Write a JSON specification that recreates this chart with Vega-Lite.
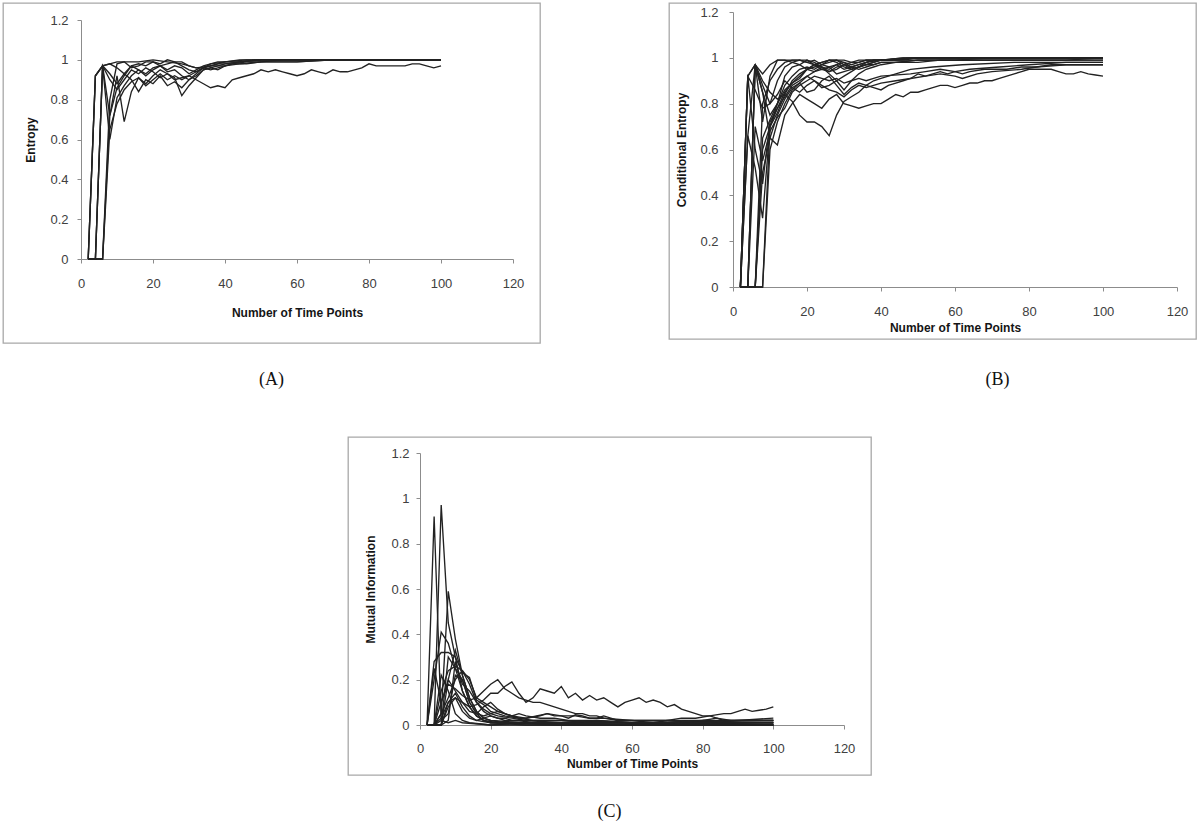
{
"$schema":"https://vega.github.io/schema/vega-lite/v6.json",
"padding":{"left":2,"top":2,"right":4,"bottom":4},
"background":"white",
"config":{
 "view":{"stroke":"#a8a8a8","strokeWidth":1.3},
 "axis":{"grid":false,"labelFlush":false,"labelOverlap":false,"domainColor":"#8c8c8c","tickColor":"#8c8c8c","tickSize":4,"labelColor":"#404040","labelFont":"Liberation Sans","labelFontSize":13,"titleFont":"Liberation Sans","titleFontSize":12,"titleFontWeight":"bold","titleColor":"#151515"},
 "title":{"font":"Liberation Serif","fontSize":18,"fontWeight":"normal","color":"#111","orient":"bottom","anchor":"middle","baseline":"top"}
},
"datasets":{
"A":[
{"s":1,"x":2,"y":0},{"s":1,"x":4,"y":0.92},{"s":1,"x":6,"y":0.97},{"s":1,"x":8,"y":0.98},{"s":1,"x":10,"y":0.99},{"s":1,"x":12,"y":0.99},{"s":1,"x":16,"y":0.99},{"s":1,"x":20,"y":1},{"s":1,"x":24,"y":0.99},{"s":1,"x":28,"y":0.98},{"s":1,"x":32,"y":0.96},{"s":1,"x":36,"y":0.97},{"s":1,"x":40,"y":0.99},{"s":1,"x":46,"y":1},{"s":1,"x":100,"y":1},
{"s":2,"x":2,"y":0},{"s":2,"x":4,"y":0.92},{"s":2,"x":6,"y":0.97},{"s":2,"x":8,"y":0.72},{"s":2,"x":10,"y":0.86},{"s":2,"x":12,"y":0.92},{"s":2,"x":14,"y":0.97},{"s":2,"x":16,"y":0.98},{"s":2,"x":18,"y":0.97},{"s":2,"x":20,"y":0.99},{"s":2,"x":22,"y":0.98},{"s":2,"x":24,"y":1},{"s":2,"x":26,"y":0.99},{"s":2,"x":28,"y":0.97},{"s":2,"x":30,"y":0.95},{"s":2,"x":32,"y":0.94},{"s":2,"x":34,"y":0.96},{"s":2,"x":36,"y":0.98},{"s":2,"x":38,"y":0.99},{"s":2,"x":40,"y":0.99},{"s":2,"x":44,"y":1},{"s":2,"x":100,"y":1},
{"s":3,"x":2,"y":0},{"s":3,"x":4,"y":0},{"s":3,"x":6,"y":0.97},{"s":3,"x":8,"y":0.6},{"s":3,"x":10,"y":0.81},{"s":3,"x":12,"y":0.87},{"s":3,"x":14,"y":0.92},{"s":3,"x":16,"y":0.95},{"s":3,"x":18,"y":0.93},{"s":3,"x":20,"y":0.96},{"s":3,"x":22,"y":0.97},{"s":3,"x":24,"y":0.95},{"s":3,"x":26,"y":0.97},{"s":3,"x":28,"y":0.96},{"s":3,"x":30,"y":0.93},{"s":3,"x":32,"y":0.95},{"s":3,"x":34,"y":0.97},{"s":3,"x":36,"y":0.98},{"s":3,"x":40,"y":0.99},{"s":3,"x":44,"y":0.99},{"s":3,"x":50,"y":1},{"s":3,"x":100,"y":1},
{"s":4,"x":2,"y":0},{"s":4,"x":4,"y":0},{"s":4,"x":6,"y":0},{"s":4,"x":8,"y":0.8},{"s":4,"x":10,"y":0.98},{"s":4,"x":12,"y":0.99},{"s":4,"x":14,"y":0.96},{"s":4,"x":16,"y":0.97},{"s":4,"x":18,"y":0.99},{"s":4,"x":20,"y":0.99},{"s":4,"x":22,"y":0.97},{"s":4,"x":24,"y":0.98},{"s":4,"x":26,"y":0.99},{"s":4,"x":28,"y":0.99},{"s":4,"x":30,"y":0.97},{"s":4,"x":32,"y":0.96},{"s":4,"x":34,"y":0.96},{"s":4,"x":36,"y":0.97},{"s":4,"x":38,"y":0.97},{"s":4,"x":40,"y":0.98},{"s":4,"x":44,"y":0.99},{"s":4,"x":50,"y":1},{"s":4,"x":100,"y":1},
{"s":5,"x":2,"y":0},{"s":5,"x":4,"y":0},{"s":5,"x":6,"y":0},{"s":5,"x":8,"y":0.72},{"s":5,"x":10,"y":0.92},{"s":5,"x":12,"y":0.69},{"s":5,"x":14,"y":0.84},{"s":5,"x":16,"y":0.91},{"s":5,"x":18,"y":0.87},{"s":5,"x":20,"y":0.9},{"s":5,"x":22,"y":0.93},{"s":5,"x":24,"y":0.9},{"s":5,"x":26,"y":0.92},{"s":5,"x":28,"y":0.9},{"s":5,"x":30,"y":0.92},{"s":5,"x":32,"y":0.94},{"s":5,"x":34,"y":0.96},{"s":5,"x":36,"y":0.95},{"s":5,"x":38,"y":0.96},{"s":5,"x":40,"y":0.97},{"s":5,"x":42,"y":0.98},{"s":5,"x":46,"y":0.98},{"s":5,"x":50,"y":0.99},{"s":5,"x":56,"y":1},{"s":5,"x":100,"y":1},
{"s":6,"x":2,"y":0},{"s":6,"x":4,"y":0},{"s":6,"x":6,"y":0},{"s":6,"x":8,"y":0.65},{"s":6,"x":10,"y":0.78},{"s":6,"x":12,"y":0.85},{"s":6,"x":14,"y":0.89},{"s":6,"x":16,"y":0.91},{"s":6,"x":18,"y":0.88},{"s":6,"x":20,"y":0.92},{"s":6,"x":22,"y":0.95},{"s":6,"x":24,"y":0.93},{"s":6,"x":26,"y":0.91},{"s":6,"x":28,"y":0.82},{"s":6,"x":30,"y":0.87},{"s":6,"x":32,"y":0.91},{"s":6,"x":34,"y":0.95},{"s":6,"x":36,"y":0.96},{"s":6,"x":38,"y":0.95},{"s":6,"x":40,"y":0.97},{"s":6,"x":42,"y":0.98},{"s":6,"x":46,"y":0.99},{"s":6,"x":60,"y":0.99},{"s":6,"x":70,"y":1},{"s":6,"x":100,"y":1},
{"s":7,"x":2,"y":0},{"s":7,"x":4,"y":0},{"s":7,"x":6,"y":0.97},{"s":7,"x":8,"y":0.9},{"s":7,"x":10,"y":0.85},{"s":7,"x":12,"y":0.9},{"s":7,"x":14,"y":0.95},{"s":7,"x":16,"y":0.93},{"s":7,"x":18,"y":0.96},{"s":7,"x":20,"y":0.94},{"s":7,"x":22,"y":0.91},{"s":7,"x":24,"y":0.93},{"s":7,"x":26,"y":0.9},{"s":7,"x":28,"y":0.91},{"s":7,"x":30,"y":0.92},{"s":7,"x":32,"y":0.9},{"s":7,"x":34,"y":0.88},{"s":7,"x":36,"y":0.86},{"s":7,"x":38,"y":0.87},{"s":7,"x":40,"y":0.86},{"s":7,"x":42,"y":0.9},{"s":7,"x":44,"y":0.91},{"s":7,"x":46,"y":0.92},{"s":7,"x":48,"y":0.93},{"s":7,"x":50,"y":0.95},{"s":7,"x":52,"y":0.94},{"s":7,"x":54,"y":0.95},{"s":7,"x":56,"y":0.94},{"s":7,"x":58,"y":0.93},{"s":7,"x":60,"y":0.92},{"s":7,"x":62,"y":0.93},{"s":7,"x":64,"y":0.95},{"s":7,"x":66,"y":0.94},{"s":7,"x":68,"y":0.93},{"s":7,"x":70,"y":0.95},{"s":7,"x":72,"y":0.94},{"s":7,"x":74,"y":0.94},{"s":7,"x":76,"y":0.95},{"s":7,"x":78,"y":0.96},{"s":7,"x":80,"y":0.98},{"s":7,"x":82,"y":0.97},{"s":7,"x":86,"y":0.97},{"s":7,"x":90,"y":0.97},{"s":7,"x":92,"y":0.98},{"s":7,"x":94,"y":0.98},{"s":7,"x":96,"y":0.97},{"s":7,"x":98,"y":0.96},{"s":7,"x":100,"y":0.97},
{"s":8,"x":2,"y":0},{"s":8,"x":4,"y":0},{"s":8,"x":6,"y":0.97},{"s":8,"x":8,"y":0.93},{"s":8,"x":10,"y":0.88},{"s":8,"x":12,"y":0.93},{"s":8,"x":14,"y":0.9},{"s":8,"x":16,"y":0.84},{"s":8,"x":18,"y":0.9},{"s":8,"x":20,"y":0.88},{"s":8,"x":22,"y":0.92},{"s":8,"x":24,"y":0.87},{"s":8,"x":26,"y":0.89},{"s":8,"x":28,"y":0.86},{"s":8,"x":30,"y":0.9},{"s":8,"x":32,"y":0.92},{"s":8,"x":34,"y":0.95},{"s":8,"x":36,"y":0.96},{"s":8,"x":38,"y":0.97},{"s":8,"x":40,"y":0.97},{"s":8,"x":44,"y":0.98},{"s":8,"x":50,"y":0.99},{"s":8,"x":60,"y":0.99},{"s":8,"x":70,"y":1},{"s":8,"x":100,"y":1},
{"s":9,"x":2,"y":0},{"s":9,"x":4,"y":0.92},{"s":9,"x":6,"y":0.97},{"s":9,"x":8,"y":0.98},{"s":9,"x":10,"y":0.96},{"s":9,"x":12,"y":0.93},{"s":9,"x":14,"y":0.97},{"s":9,"x":16,"y":0.95},{"s":9,"x":18,"y":0.92},{"s":9,"x":20,"y":0.95},{"s":9,"x":22,"y":0.97},{"s":9,"x":24,"y":0.94},{"s":9,"x":26,"y":0.95},{"s":9,"x":28,"y":0.92},{"s":9,"x":30,"y":0.9},{"s":9,"x":32,"y":0.93},{"s":9,"x":34,"y":0.96},{"s":9,"x":36,"y":0.97},{"s":9,"x":38,"y":0.98},{"s":9,"x":40,"y":0.98},{"s":9,"x":44,"y":0.99},{"s":9,"x":50,"y":1},{"s":9,"x":100,"y":1}
],
"B":[
{"s":1,"x":2,"y":0},{"s":1,"x":4,"y":0.92},{"s":1,"x":6,"y":0.97},{"s":1,"x":8,"y":0.93},{"s":1,"x":10,"y":0.97},{"s":1,"x":12,"y":0.99},{"s":1,"x":14,"y":0.99},{"s":1,"x":16,"y":0.99},{"s":1,"x":18,"y":0.99},{"s":1,"x":20,"y":0.98},{"s":1,"x":22,"y":0.97},{"s":1,"x":24,"y":0.98},{"s":1,"x":26,"y":0.99},{"s":1,"x":28,"y":0.98},{"s":1,"x":30,"y":0.96},{"s":1,"x":32,"y":0.95},{"s":1,"x":34,"y":0.96},{"s":1,"x":36,"y":0.97},{"s":1,"x":38,"y":0.98},{"s":1,"x":40,"y":0.99},{"s":1,"x":44,"y":0.99},{"s":1,"x":50,"y":1},{"s":1,"x":100,"y":1},
{"s":2,"x":2,"y":0},{"s":2,"x":4,"y":0.66},{"s":2,"x":6,"y":0.52},{"s":2,"x":8,"y":0.3},{"s":2,"x":10,"y":0.7},{"s":2,"x":12,"y":0.8},{"s":2,"x":14,"y":0.88},{"s":2,"x":16,"y":0.92},{"s":2,"x":18,"y":0.95},{"s":2,"x":20,"y":0.96},{"s":2,"x":22,"y":0.95},{"s":2,"x":24,"y":0.97},{"s":2,"x":26,"y":0.99},{"s":2,"x":28,"y":0.99},{"s":2,"x":30,"y":0.97},{"s":2,"x":32,"y":0.95},{"s":2,"x":34,"y":0.96},{"s":2,"x":36,"y":0.97},{"s":2,"x":38,"y":0.98},{"s":2,"x":40,"y":0.99},{"s":2,"x":46,"y":0.99},{"s":2,"x":50,"y":1},{"s":2,"x":100,"y":1},
{"s":3,"x":2,"y":0},{"s":3,"x":4,"y":0.92},{"s":3,"x":6,"y":0.6},{"s":3,"x":8,"y":0.45},{"s":3,"x":10,"y":0.72},{"s":3,"x":12,"y":0.78},{"s":3,"x":14,"y":0.85},{"s":3,"x":16,"y":0.89},{"s":3,"x":18,"y":0.91},{"s":3,"x":20,"y":0.95},{"s":3,"x":22,"y":0.97},{"s":3,"x":24,"y":0.96},{"s":3,"x":26,"y":0.95},{"s":3,"x":28,"y":0.97},{"s":3,"x":30,"y":0.98},{"s":3,"x":32,"y":0.96},{"s":3,"x":34,"y":0.97},{"s":3,"x":36,"y":0.98},{"s":3,"x":38,"y":0.99},{"s":3,"x":40,"y":0.99},{"s":3,"x":50,"y":1},{"s":3,"x":100,"y":1},
{"s":4,"x":2,"y":0},{"s":4,"x":4,"y":0},{"s":4,"x":6,"y":0.97},{"s":4,"x":8,"y":0.72},{"s":4,"x":10,"y":0.92},{"s":4,"x":12,"y":0.99},{"s":4,"x":14,"y":0.99},{"s":4,"x":16,"y":0.98},{"s":4,"x":18,"y":0.97},{"s":4,"x":20,"y":0.99},{"s":4,"x":22,"y":0.97},{"s":4,"x":24,"y":0.95},{"s":4,"x":26,"y":0.96},{"s":4,"x":28,"y":0.93},{"s":4,"x":30,"y":0.94},{"s":4,"x":32,"y":0.95},{"s":4,"x":34,"y":0.96},{"s":4,"x":36,"y":0.98},{"s":4,"x":38,"y":0.99},{"s":4,"x":40,"y":0.99},{"s":4,"x":46,"y":1},{"s":4,"x":100,"y":1},
{"s":5,"x":2,"y":0},{"s":5,"x":4,"y":0},{"s":5,"x":6,"y":0.97},{"s":5,"x":8,"y":0.85},{"s":5,"x":10,"y":0.75},{"s":5,"x":12,"y":0.8},{"s":5,"x":14,"y":0.92},{"s":5,"x":16,"y":0.96},{"s":5,"x":18,"y":0.97},{"s":5,"x":20,"y":0.95},{"s":5,"x":22,"y":0.94},{"s":5,"x":24,"y":0.96},{"s":5,"x":26,"y":0.93},{"s":5,"x":28,"y":0.9},{"s":5,"x":30,"y":0.92},{"s":5,"x":32,"y":0.94},{"s":5,"x":34,"y":0.96},{"s":5,"x":36,"y":0.97},{"s":5,"x":38,"y":0.97},{"s":5,"x":40,"y":0.98},{"s":5,"x":44,"y":0.98},{"s":5,"x":50,"y":0.99},{"s":5,"x":60,"y":0.99},{"s":5,"x":70,"y":1},{"s":5,"x":100,"y":1},
{"s":6,"x":2,"y":0},{"s":6,"x":4,"y":0},{"s":6,"x":6,"y":0},{"s":6,"x":8,"y":0.6},{"s":6,"x":10,"y":0.7},{"s":6,"x":12,"y":0.78},{"s":6,"x":14,"y":0.83},{"s":6,"x":16,"y":0.88},{"s":6,"x":18,"y":0.9},{"s":6,"x":20,"y":0.92},{"s":6,"x":22,"y":0.9},{"s":6,"x":24,"y":0.87},{"s":6,"x":26,"y":0.88},{"s":6,"x":28,"y":0.9},{"s":6,"x":30,"y":0.86},{"s":6,"x":32,"y":0.9},{"s":6,"x":34,"y":0.93},{"s":6,"x":36,"y":0.95},{"s":6,"x":38,"y":0.96},{"s":6,"x":40,"y":0.97},{"s":6,"x":44,"y":0.98},{"s":6,"x":50,"y":0.98},{"s":6,"x":56,"y":0.99},{"s":6,"x":80,"y":0.99},{"s":6,"x":90,"y":0.99},{"s":6,"x":100,"y":1},
{"s":7,"x":2,"y":0},{"s":7,"x":4,"y":0},{"s":7,"x":6,"y":0},{"s":7,"x":8,"y":0.5},{"s":7,"x":10,"y":0.65},{"s":7,"x":12,"y":0.75},{"s":7,"x":14,"y":0.82},{"s":7,"x":16,"y":0.87},{"s":7,"x":18,"y":0.89},{"s":7,"x":20,"y":0.85},{"s":7,"x":22,"y":0.86},{"s":7,"x":24,"y":0.9},{"s":7,"x":26,"y":0.92},{"s":7,"x":28,"y":0.88},{"s":7,"x":30,"y":0.84},{"s":7,"x":32,"y":0.87},{"s":7,"x":34,"y":0.89},{"s":7,"x":36,"y":0.88},{"s":7,"x":38,"y":0.87},{"s":7,"x":40,"y":0.86},{"s":7,"x":42,"y":0.88},{"s":7,"x":44,"y":0.89},{"s":7,"x":46,"y":0.9},{"s":7,"x":48,"y":0.91},{"s":7,"x":50,"y":0.93},{"s":7,"x":52,"y":0.92},{"s":7,"x":54,"y":0.93},{"s":7,"x":56,"y":0.94},{"s":7,"x":58,"y":0.93},{"s":7,"x":60,"y":0.94},{"s":7,"x":62,"y":0.93},{"s":7,"x":64,"y":0.94},{"s":7,"x":68,"y":0.95},{"s":7,"x":74,"y":0.95},{"s":7,"x":78,"y":0.96},{"s":7,"x":82,"y":0.96},{"s":7,"x":86,"y":0.97},{"s":7,"x":94,"y":0.97},{"s":7,"x":100,"y":0.97},
{"s":8,"x":2,"y":0},{"s":8,"x":4,"y":0},{"s":8,"x":6,"y":0},{"s":8,"x":8,"y":0},{"s":8,"x":10,"y":0.7},{"s":8,"x":12,"y":0.76},{"s":8,"x":14,"y":0.84},{"s":8,"x":16,"y":0.9},{"s":8,"x":18,"y":0.93},{"s":8,"x":20,"y":0.95},{"s":8,"x":22,"y":0.97},{"s":8,"x":24,"y":0.98},{"s":8,"x":26,"y":0.99},{"s":8,"x":28,"y":0.99},{"s":8,"x":30,"y":0.98},{"s":8,"x":32,"y":0.97},{"s":8,"x":34,"y":0.98},{"s":8,"x":36,"y":0.99},{"s":8,"x":40,"y":0.99},{"s":8,"x":50,"y":1},{"s":8,"x":100,"y":1},
{"s":9,"x":2,"y":0},{"s":9,"x":4,"y":0},{"s":9,"x":6,"y":0},{"s":9,"x":8,"y":0},{"s":9,"x":10,"y":0.6},{"s":9,"x":12,"y":0.72},{"s":9,"x":14,"y":0.8},{"s":9,"x":16,"y":0.86},{"s":9,"x":18,"y":0.89},{"s":9,"x":20,"y":0.92},{"s":9,"x":22,"y":0.94},{"s":9,"x":24,"y":0.95},{"s":9,"x":26,"y":0.94},{"s":9,"x":28,"y":0.95},{"s":9,"x":30,"y":0.97},{"s":9,"x":32,"y":0.98},{"s":9,"x":34,"y":0.98},{"s":9,"x":36,"y":0.99},{"s":9,"x":60,"y":0.99},{"s":9,"x":100,"y":0.99},
{"s":10,"x":2,"y":0},{"s":10,"x":4,"y":0},{"s":10,"x":6,"y":0.97},{"s":10,"x":8,"y":0.9},{"s":10,"x":10,"y":0.85},{"s":10,"x":12,"y":0.82},{"s":10,"x":14,"y":0.84},{"s":10,"x":16,"y":0.81},{"s":10,"x":18,"y":0.75},{"s":10,"x":20,"y":0.72},{"s":10,"x":22,"y":0.72},{"s":10,"x":24,"y":0.7},{"s":10,"x":26,"y":0.66},{"s":10,"x":28,"y":0.75},{"s":10,"x":30,"y":0.81},{"s":10,"x":32,"y":0.83},{"s":10,"x":34,"y":0.85},{"s":10,"x":36,"y":0.88},{"s":10,"x":38,"y":0.9},{"s":10,"x":40,"y":0.91},{"s":10,"x":42,"y":0.92},{"s":10,"x":44,"y":0.93},{"s":10,"x":46,"y":0.94},{"s":10,"x":48,"y":0.95},{"s":10,"x":54,"y":0.96},{"s":10,"x":62,"y":0.97},{"s":10,"x":76,"y":0.98},{"s":10,"x":100,"y":0.98},
{"s":11,"x":2,"y":0},{"s":11,"x":4,"y":0.92},{"s":11,"x":6,"y":0.97},{"s":11,"x":8,"y":0.85},{"s":11,"x":10,"y":0.65},{"s":11,"x":12,"y":0.62},{"s":11,"x":14,"y":0.75},{"s":11,"x":16,"y":0.8},{"s":11,"x":18,"y":0.84},{"s":11,"x":20,"y":0.82},{"s":11,"x":22,"y":0.8},{"s":11,"x":24,"y":0.78},{"s":11,"x":26,"y":0.82},{"s":11,"x":28,"y":0.84},{"s":11,"x":30,"y":0.8},{"s":11,"x":32,"y":0.79},{"s":11,"x":34,"y":0.78},{"s":11,"x":36,"y":0.79},{"s":11,"x":38,"y":0.8},{"s":11,"x":40,"y":0.8},{"s":11,"x":42,"y":0.82},{"s":11,"x":44,"y":0.84},{"s":11,"x":46,"y":0.83},{"s":11,"x":48,"y":0.85},{"s":11,"x":50,"y":0.85},{"s":11,"x":52,"y":0.86},{"s":11,"x":54,"y":0.87},{"s":11,"x":56,"y":0.88},{"s":11,"x":58,"y":0.88},{"s":11,"x":60,"y":0.87},{"s":11,"x":62,"y":0.88},{"s":11,"x":64,"y":0.89},{"s":11,"x":66,"y":0.89},{"s":11,"x":68,"y":0.9},{"s":11,"x":70,"y":0.9},{"s":11,"x":72,"y":0.91},{"s":11,"x":74,"y":0.92},{"s":11,"x":76,"y":0.93},{"s":11,"x":78,"y":0.94},{"s":11,"x":80,"y":0.95},{"s":11,"x":84,"y":0.95},{"s":11,"x":86,"y":0.95},{"s":11,"x":88,"y":0.94},{"s":11,"x":90,"y":0.93},{"s":11,"x":92,"y":0.93},{"s":11,"x":94,"y":0.94},{"s":11,"x":96,"y":0.93},{"s":11,"x":98,"y":0.925},{"s":11,"x":100,"y":0.92},
{"s":12,"x":2,"y":0},{"s":12,"x":4,"y":0},{"s":12,"x":6,"y":0},{"s":12,"x":8,"y":0.8},{"s":12,"x":10,"y":0.9},{"s":12,"x":12,"y":0.95},{"s":12,"x":14,"y":0.98},{"s":12,"x":16,"y":0.99},{"s":12,"x":18,"y":0.99},{"s":12,"x":20,"y":0.98},{"s":12,"x":22,"y":0.99},{"s":12,"x":24,"y":0.97},{"s":12,"x":26,"y":0.96},{"s":12,"x":28,"y":0.97},{"s":12,"x":30,"y":0.95},{"s":12,"x":32,"y":0.96},{"s":12,"x":34,"y":0.97},{"s":12,"x":36,"y":0.98},{"s":12,"x":40,"y":0.99},{"s":12,"x":46,"y":1},{"s":12,"x":100,"y":1},
{"s":13,"x":2,"y":0},{"s":13,"x":4,"y":0.66},{"s":13,"x":6,"y":0.97},{"s":13,"x":8,"y":0.88},{"s":13,"x":10,"y":0.8},{"s":13,"x":12,"y":0.84},{"s":13,"x":14,"y":0.9},{"s":13,"x":16,"y":0.87},{"s":13,"x":18,"y":0.85},{"s":13,"x":20,"y":0.88},{"s":13,"x":22,"y":0.9},{"s":13,"x":24,"y":0.88},{"s":13,"x":26,"y":0.86},{"s":13,"x":28,"y":0.85},{"s":13,"x":30,"y":0.83},{"s":13,"x":32,"y":0.86},{"s":13,"x":34,"y":0.88},{"s":13,"x":36,"y":0.87},{"s":13,"x":38,"y":0.88},{"s":13,"x":40,"y":0.89},{"s":13,"x":44,"y":0.9},{"s":13,"x":48,"y":0.91},{"s":13,"x":52,"y":0.92},{"s":13,"x":56,"y":0.93},{"s":13,"x":60,"y":0.92},{"s":13,"x":62,"y":0.91},{"s":13,"x":66,"y":0.93},{"s":13,"x":70,"y":0.94},{"s":13,"x":78,"y":0.95},{"s":13,"x":82,"y":0.96},{"s":13,"x":90,"y":0.97},{"s":13,"x":100,"y":0.97},
{"s":14,"x":2,"y":0},{"s":14,"x":4,"y":0},{"s":14,"x":6,"y":0.7},{"s":14,"x":8,"y":0.55},{"s":14,"x":10,"y":0.68},{"s":14,"x":12,"y":0.74},{"s":14,"x":14,"y":0.78},{"s":14,"x":16,"y":0.85},{"s":14,"x":18,"y":0.88},{"s":14,"x":20,"y":0.9},{"s":14,"x":22,"y":0.92},{"s":14,"x":24,"y":0.91},{"s":14,"x":26,"y":0.9},{"s":14,"x":28,"y":0.91},{"s":14,"x":30,"y":0.89},{"s":14,"x":32,"y":0.9},{"s":14,"x":34,"y":0.91},{"s":14,"x":36,"y":0.9},{"s":14,"x":38,"y":0.91},{"s":14,"x":40,"y":0.92},{"s":14,"x":48,"y":0.93},{"s":14,"x":52,"y":0.94},{"s":14,"x":56,"y":0.95},{"s":14,"x":60,"y":0.94},{"s":14,"x":64,"y":0.95},{"s":14,"x":72,"y":0.96},{"s":14,"x":80,"y":0.97},{"s":14,"x":90,"y":0.98},{"s":14,"x":100,"y":0.98},
{"s":15,"x":2,"y":0},{"s":15,"x":4,"y":0},{"s":15,"x":6,"y":0},{"s":15,"x":8,"y":0.65},{"s":15,"x":10,"y":0.73},{"s":15,"x":12,"y":0.8},{"s":15,"x":14,"y":0.86},{"s":15,"x":16,"y":0.89},{"s":15,"x":18,"y":0.92},{"s":15,"x":20,"y":0.95},{"s":15,"x":22,"y":0.96},{"s":15,"x":24,"y":0.97},{"s":15,"x":26,"y":0.98},{"s":15,"x":28,"y":0.99},{"s":15,"x":30,"y":0.99},{"s":15,"x":32,"y":0.98},{"s":15,"x":34,"y":0.99},{"s":15,"x":40,"y":0.99},{"s":15,"x":50,"y":1},{"s":15,"x":100,"y":1},
{"s":16,"x":2,"y":0},{"s":16,"x":4,"y":0.92},{"s":16,"x":6,"y":0.86},{"s":16,"x":8,"y":0.78},{"s":16,"x":10,"y":0.8},{"s":16,"x":12,"y":0.9},{"s":16,"x":14,"y":0.96},{"s":16,"x":16,"y":0.98},{"s":16,"x":18,"y":0.99},{"s":16,"x":20,"y":0.99},{"s":16,"x":22,"y":0.98},{"s":16,"x":24,"y":0.96},{"s":16,"x":26,"y":0.94},{"s":16,"x":28,"y":0.96},{"s":16,"x":30,"y":0.97},{"s":16,"x":32,"y":0.96},{"s":16,"x":34,"y":0.95},{"s":16,"x":36,"y":0.96},{"s":16,"x":38,"y":0.97},{"s":16,"x":40,"y":0.98},{"s":16,"x":44,"y":0.98},{"s":16,"x":50,"y":0.99},{"s":16,"x":100,"y":0.99}
],
"C":[
{"s":1,"x":2,"y":0},{"s":1,"x":4,"y":0.92},{"s":1,"x":6,"y":0.02},{"s":1,"x":8,"y":0.01},{"s":1,"x":10,"y":0.02},{"s":1,"x":12,"y":0.01},{"s":1,"x":20,"y":0},{"s":1,"x":30,"y":0.01},{"s":1,"x":40,"y":0},{"s":1,"x":80,"y":0.01},{"s":1,"x":100,"y":0},
{"s":2,"x":2,"y":0},{"s":2,"x":4,"y":0},{"s":2,"x":6,"y":0.97},{"s":2,"x":8,"y":0.45},{"s":2,"x":10,"y":0.3},{"s":2,"x":12,"y":0.15},{"s":2,"x":14,"y":0.08},{"s":2,"x":16,"y":0.04},{"s":2,"x":18,"y":0.02},{"s":2,"x":20,"y":0.01},{"s":2,"x":30,"y":0.01},{"s":2,"x":50,"y":0},{"s":2,"x":100,"y":0},
{"s":3,"x":2,"y":0},{"s":3,"x":4,"y":0},{"s":3,"x":6,"y":0.05},{"s":3,"x":8,"y":0.59},{"s":3,"x":10,"y":0.38},{"s":3,"x":12,"y":0.22},{"s":3,"x":14,"y":0.12},{"s":3,"x":16,"y":0.06},{"s":3,"x":18,"y":0.03},{"s":3,"x":20,"y":0.02},{"s":3,"x":24,"y":0.01},{"s":3,"x":40,"y":0.01},{"s":3,"x":60,"y":0},{"s":3,"x":100,"y":0},
{"s":4,"x":2,"y":0},{"s":4,"x":4,"y":0.2},{"s":4,"x":6,"y":0.41},{"s":4,"x":8,"y":0.36},{"s":4,"x":10,"y":0.25},{"s":4,"x":12,"y":0.15},{"s":4,"x":14,"y":0.08},{"s":4,"x":16,"y":0.04},{"s":4,"x":18,"y":0.02},{"s":4,"x":22,"y":0.01},{"s":4,"x":40,"y":0},{"s":4,"x":100,"y":0.01},
{"s":5,"x":2,"y":0},{"s":5,"x":4,"y":0.28},{"s":5,"x":6,"y":0.32},{"s":5,"x":8,"y":0.32},{"s":5,"x":10,"y":0.3},{"s":5,"x":12,"y":0.23},{"s":5,"x":14,"y":0.21},{"s":5,"x":16,"y":0.11},{"s":5,"x":18,"y":0.09},{"s":5,"x":20,"y":0.06},{"s":5,"x":22,"y":0.05},{"s":5,"x":24,"y":0.04},{"s":5,"x":28,"y":0.03},{"s":5,"x":32,"y":0.02},{"s":5,"x":40,"y":0.02},{"s":5,"x":50,"y":0.01},{"s":5,"x":70,"y":0.01},{"s":5,"x":100,"y":0},
{"s":6,"x":2,"y":0},{"s":6,"x":4,"y":0.25},{"s":6,"x":6,"y":0.1},{"s":6,"x":8,"y":0.2},{"s":6,"x":10,"y":0.33},{"s":6,"x":12,"y":0.22},{"s":6,"x":14,"y":0.12},{"s":6,"x":16,"y":0.06},{"s":6,"x":18,"y":0.03},{"s":6,"x":20,"y":0.02},{"s":6,"x":30,"y":0.01},{"s":6,"x":100,"y":0.01},
{"s":7,"x":2,"y":0},{"s":7,"x":4,"y":0},{"s":7,"x":6,"y":0.15},{"s":7,"x":8,"y":0.24},{"s":7,"x":10,"y":0.26},{"s":7,"x":12,"y":0.24},{"s":7,"x":14,"y":0.18},{"s":7,"x":16,"y":0.1},{"s":7,"x":18,"y":0.07},{"s":7,"x":20,"y":0.05},{"s":7,"x":22,"y":0.04},{"s":7,"x":26,"y":0.03},{"s":7,"x":30,"y":0.02},{"s":7,"x":40,"y":0.02},{"s":7,"x":60,"y":0.01},{"s":7,"x":100,"y":0.02},
{"s":8,"x":2,"y":0},{"s":8,"x":4,"y":0},{"s":8,"x":6,"y":0.05},{"s":8,"x":8,"y":0.12},{"s":8,"x":10,"y":0.2},{"s":8,"x":12,"y":0.24},{"s":8,"x":14,"y":0.2},{"s":8,"x":16,"y":0.12},{"s":8,"x":18,"y":0.1},{"s":8,"x":20,"y":0.08},{"s":8,"x":22,"y":0.06},{"s":8,"x":24,"y":0.05},{"s":8,"x":26,"y":0.04},{"s":8,"x":30,"y":0.03},{"s":8,"x":36,"y":0.05},{"s":8,"x":40,"y":0.04},{"s":8,"x":44,"y":0.04},{"s":8,"x":48,"y":0.03},{"s":8,"x":52,"y":0.03},{"s":8,"x":60,"y":0.02},{"s":8,"x":100,"y":0.02},
{"s":9,"x":2,"y":0},{"s":9,"x":4,"y":0},{"s":9,"x":6,"y":0.1},{"s":9,"x":8,"y":0.18},{"s":9,"x":10,"y":0.16},{"s":9,"x":12,"y":0.13},{"s":9,"x":14,"y":0.11},{"s":9,"x":16,"y":0.12},{"s":9,"x":18,"y":0.15},{"s":9,"x":20,"y":0.18},{"s":9,"x":22,"y":0.2},{"s":9,"x":24,"y":0.16},{"s":9,"x":26,"y":0.14},{"s":9,"x":28,"y":0.12},{"s":9,"x":30,"y":0.11},{"s":9,"x":32,"y":0.1},{"s":9,"x":34,"y":0.1},{"s":9,"x":36,"y":0.09},{"s":9,"x":38,"y":0.08},{"s":9,"x":40,"y":0.07},{"s":9,"x":42,"y":0.06},{"s":9,"x":44,"y":0.05},{"s":9,"x":46,"y":0.05},{"s":9,"x":48,"y":0.04},{"s":9,"x":50,"y":0.04},{"s":9,"x":52,"y":0.03},{"s":9,"x":56,"y":0.02},{"s":9,"x":60,"y":0.02},{"s":9,"x":66,"y":0.01},{"s":9,"x":100,"y":0.01},
{"s":10,"x":2,"y":0},{"s":10,"x":4,"y":0},{"s":10,"x":6,"y":0},{"s":10,"x":8,"y":0.08},{"s":10,"x":10,"y":0.12},{"s":10,"x":12,"y":0.1},{"s":10,"x":14,"y":0.08},{"s":10,"x":16,"y":0.09},{"s":10,"x":18,"y":0.11},{"s":10,"x":20,"y":0.14},{"s":10,"x":22,"y":0.14},{"s":10,"x":24,"y":0.17},{"s":10,"x":26,"y":0.19},{"s":10,"x":28,"y":0.14},{"s":10,"x":30,"y":0.1},{"s":10,"x":32,"y":0.12},{"s":10,"x":34,"y":0.16},{"s":10,"x":36,"y":0.15},{"s":10,"x":38,"y":0.14},{"s":10,"x":40,"y":0.17},{"s":10,"x":42,"y":0.12},{"s":10,"x":44,"y":0.14},{"s":10,"x":46,"y":0.11},{"s":10,"x":48,"y":0.13},{"s":10,"x":50,"y":0.11},{"s":10,"x":52,"y":0.12},{"s":10,"x":54,"y":0.1},{"s":10,"x":56,"y":0.08},{"s":10,"x":58,"y":0.1},{"s":10,"x":60,"y":0.11},{"s":10,"x":62,"y":0.12},{"s":10,"x":64,"y":0.1},{"s":10,"x":66,"y":0.11},{"s":10,"x":68,"y":0.1},{"s":10,"x":70,"y":0.08},{"s":10,"x":72,"y":0.09},{"s":10,"x":74,"y":0.07},{"s":10,"x":76,"y":0.06},{"s":10,"x":78,"y":0.05},{"s":10,"x":80,"y":0.04},{"s":10,"x":82,"y":0.04},{"s":10,"x":84,"y":0.03},{"s":10,"x":86,"y":0.02},{"s":10,"x":100,"y":0.02},
{"s":11,"x":2,"y":0},{"s":11,"x":4,"y":0},{"s":11,"x":6,"y":0.03},{"s":11,"x":8,"y":0.1},{"s":11,"x":10,"y":0.14},{"s":11,"x":12,"y":0.08},{"s":11,"x":14,"y":0.04},{"s":11,"x":16,"y":0.02},{"s":11,"x":20,"y":0.01},{"s":11,"x":66,"y":0.01},{"s":11,"x":70,"y":0.02},{"s":11,"x":74,"y":0.03},{"s":11,"x":78,"y":0.03},{"s":11,"x":82,"y":0.04},{"s":11,"x":86,"y":0.05},{"s":11,"x":88,"y":0.05},{"s":11,"x":90,"y":0.06},{"s":11,"x":92,"y":0.07},{"s":11,"x":94,"y":0.06},{"s":11,"x":96,"y":0.065},{"s":11,"x":98,"y":0.07},{"s":11,"x":100,"y":0.08},
{"s":12,"x":2,"y":0},{"s":12,"x":4,"y":0},{"s":12,"x":6,"y":0.02},{"s":12,"x":8,"y":0.05},{"s":12,"x":10,"y":0.22},{"s":12,"x":12,"y":0.2},{"s":12,"x":14,"y":0.1},{"s":12,"x":16,"y":0.05},{"s":12,"x":18,"y":0.08},{"s":12,"x":20,"y":0.1},{"s":12,"x":22,"y":0.07},{"s":12,"x":24,"y":0.05},{"s":12,"x":26,"y":0.04},{"s":12,"x":28,"y":0.03},{"s":12,"x":30,"y":0.03},{"s":12,"x":34,"y":0.04},{"s":12,"x":36,"y":0.05},{"s":12,"x":38,"y":0.04},{"s":12,"x":40,"y":0.04},{"s":12,"x":42,"y":0.03},{"s":12,"x":44,"y":0.045},{"s":12,"x":46,"y":0.04},{"s":12,"x":48,"y":0.03},{"s":12,"x":50,"y":0.03},{"s":12,"x":52,"y":0.04},{"s":12,"x":54,"y":0.03},{"s":12,"x":56,"y":0.02},{"s":12,"x":70,"y":0.02},{"s":12,"x":80,"y":0.01},{"s":12,"x":90,"y":0.02},{"s":12,"x":100,"y":0.03},
{"s":13,"x":2,"y":0},{"s":13,"x":4,"y":0},{"s":13,"x":6,"y":0},{"s":13,"x":8,"y":0.1},{"s":13,"x":10,"y":0.12},{"s":13,"x":12,"y":0.06},{"s":13,"x":14,"y":0.03},{"s":13,"x":16,"y":0.02},{"s":13,"x":18,"y":0.03},{"s":13,"x":20,"y":0.04},{"s":13,"x":22,"y":0.03},{"s":13,"x":24,"y":0.02},{"s":13,"x":28,"y":0.02},{"s":13,"x":32,"y":0.01},{"s":13,"x":40,"y":0.01},{"s":13,"x":60,"y":0},{"s":13,"x":100,"y":0},
{"s":14,"x":2,"y":0},{"s":14,"x":4,"y":0},{"s":14,"x":6,"y":0},{"s":14,"x":8,"y":0.2},{"s":14,"x":10,"y":0.15},{"s":14,"x":12,"y":0.1},{"s":14,"x":14,"y":0.06},{"s":14,"x":16,"y":0.05},{"s":14,"x":18,"y":0.04},{"s":14,"x":20,"y":0.05},{"s":14,"x":22,"y":0.06},{"s":14,"x":24,"y":0.05},{"s":14,"x":26,"y":0.04},{"s":14,"x":28,"y":0.05},{"s":14,"x":30,"y":0.04},{"s":14,"x":34,"y":0.03},{"s":14,"x":38,"y":0.03},{"s":14,"x":42,"y":0.02},{"s":14,"x":50,"y":0.02},{"s":14,"x":60,"y":0.01},{"s":14,"x":70,"y":0.01},{"s":14,"x":80,"y":0.02},{"s":14,"x":84,"y":0.03},{"s":14,"x":88,"y":0.02},{"s":14,"x":100,"y":0.02},
{"s":15,"x":2,"y":0},{"s":15,"x":4,"y":0},{"s":15,"x":6,"y":0.22},{"s":15,"x":8,"y":0.15},{"s":15,"x":10,"y":0.05},{"s":15,"x":12,"y":0.02},{"s":15,"x":14,"y":0.01},{"s":15,"x":20,"y":0},{"s":15,"x":100,"y":0},
{"s":16,"x":2,"y":0},{"s":16,"x":4,"y":0},{"s":16,"x":6,"y":0},{"s":16,"x":8,"y":0.02},{"s":16,"x":10,"y":0.28},{"s":16,"x":12,"y":0.18},{"s":16,"x":14,"y":0.15},{"s":16,"x":16,"y":0.1},{"s":16,"x":18,"y":0.06},{"s":16,"x":20,"y":0.04},{"s":16,"x":22,"y":0.03},{"s":16,"x":24,"y":0.03},{"s":16,"x":26,"y":0.02},{"s":16,"x":30,"y":0.02},{"s":16,"x":40,"y":0.01},{"s":16,"x":50,"y":0.02},{"s":16,"x":60,"y":0.01},{"s":16,"x":70,"y":0.01},{"s":16,"x":80,"y":0.02},{"s":16,"x":90,"y":0.01},{"s":16,"x":100,"y":0.01},
{"s":17,"x":2,"y":0},{"s":17,"x":4,"y":0},{"s":17,"x":6,"y":0},{"s":17,"x":8,"y":0.3},{"s":17,"x":10,"y":0.25},{"s":17,"x":12,"y":0.2},{"s":17,"x":14,"y":0.1},{"s":17,"x":16,"y":0.05},{"s":17,"x":18,"y":0.02},{"s":17,"x":20,"y":0.01},{"s":17,"x":30,"y":0},{"s":17,"x":100,"y":0}
]
},
"spacing":46,
"vconcat":[
 {"bounds":"flush","spacing":129,"hconcat":[
  {"width":537,"height":340,"data":{"name":"A"},
   "title":{"text":"(A)","offset":28},
   "mark":{"type":"line","color":"#222222","strokeWidth":1.35,"clip":false},
   "encoding":{
    "x":{"field":"x","type":"quantitative","scale":{"domain":[0,120],"range":[78,510]},"axis":{"offset":-84,"values":[0,20,40,60,80,100,120],"format":"d","labelPadding":14,"title":"Number of Time Points","titlePadding":17}},
    "y":{"field":"y","type":"quantitative","scale":{"domain":[0,1.2],"range":[256,17]},"axis":{"offset":-78,"values":[0,0.2,0.4,0.6,0.8,1,1.2],"format":"~g","labelPadding":9,"title":"Entropy","titlePadding":12}},
    "detail":{"field":"s","type":"nominal"}}},
  {"width":527,"height":336,"data":{"name":"B"},
   "title":{"text":"(B)","offset":32,"dx":65},
   "mark":{"type":"line","color":"#222222","strokeWidth":1.35,"clip":false},
   "encoding":{
    "x":{"field":"x","type":"quantitative","scale":{"domain":[0,120],"range":[64,508]},"axis":{"offset":-52,"values":[0,20,40,60,80,100,120],"format":"d","labelPadding":14,"title":"Number of Time Points","titlePadding":4}},
    "y":{"field":"y","type":"quantitative","scale":{"domain":[0,1.2],"range":[284,9]},"axis":{"offset":-64,"values":[0,0.2,0.4,0.6,0.8,1,1.2],"format":"~g","labelPadding":11,"title":"Conditional Entropy","titlePadding":11}},
    "detail":{"field":"s","type":"nominal"}}}
 ]},
 {"bounds":"flush","spacing":0,"hconcat":[
  {"width":345,"height":338,"data":{"values":[]},"mark":{"type":"point"},"view":{"stroke":null}},
  {"width":523,"height":338,"data":{"name":"C"},
   "title":{"text":"(C)","offset":28},
   "mark":{"type":"line","color":"#222222","strokeWidth":1.35,"clip":false},
   "encoding":{
    "x":{"field":"x","type":"quantitative","scale":{"domain":[0,120],"range":[72,496]},"axis":{"offset":-50,"values":[0,20,40,60,80,100,120],"format":"d","labelPadding":13,"title":"Number of Time Points","titlePadding":3}},
    "y":{"field":"y","type":"quantitative","scale":{"domain":[0,1.2],"range":[288,16]},"axis":{"offset":-72,"values":[0,0.2,0.4,0.6,0.8,1,1.2],"format":"~g","labelPadding":7,"title":"Mutual Information","titlePadding":13}},
    "detail":{"field":"s","type":"nominal"}}}
 ]}
]
}
